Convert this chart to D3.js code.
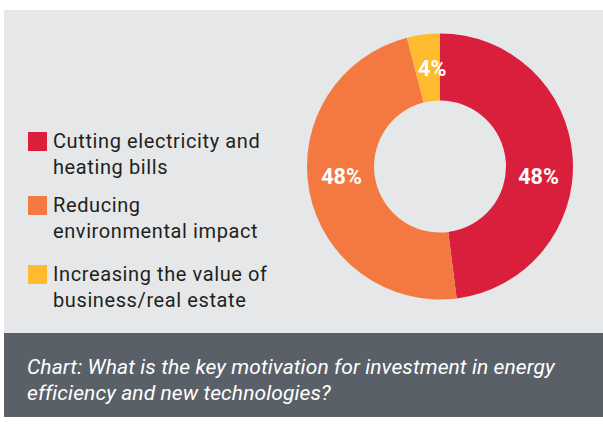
<!DOCTYPE html>
<html>
<head>
<meta charset="utf-8">
<script src="https://cdn.jsdelivr.net/npm/d3@7"></script>
<style>
  html, body { margin: 0; padding: 0; background: #ffffff; }
  svg { display: block; }
</style>
</head>
<body>
<svg id="chart" width="603" height="424"></svg>
<script>
// Survey answers: share of respondents per motivation
const categories = [
  ["Cutting electricity and", "heating bills"],
  ["Reducing", "environmental impact"],
  ["Increasing the value of", "business/real estate"]
];
const values = [48, 48, 4];
const colors = ["#da1f3d", "#f47940", "#fdbb2d"];
const captionLines = [
  "Chart: What is the key motivation for investment in energy",
  "efficiency and new technologies?"
];

const svg = d3.select("#chart");
const FONT = "Roboto, 'Noto Sans', sans-serif";

// panel backgrounds
svg.append("rect").attr("x", 4).attr("y", 10).attr("width", 599).attr("height", 323)
  .attr("fill", "#e6e7e8");
svg.append("rect").attr("x", 4).attr("y", 333).attr("width", 599).attr("height", 84)
  .attr("fill", "#5a6068");

// donut
const cx = 440, cy = 166.5, rOuter = 133, rInner = 66;
const pie = d3.pie().sort(null).value(d => d)
  .startAngle(0).endAngle(2 * Math.PI);
const arcs = pie(values);
const arc = d3.arc().innerRadius(rInner).outerRadius(rOuter);

const g = svg.append("g").attr("transform", `translate(${cx},${cy})`);
g.selectAll("path.slice").data(arcs).join("path")
  .attr("class", "slice")
  .attr("d", arc)
  .attr("fill", (d, i) => colors[i]);

// value labels on the ring, angle nudged so the large ones sit a bit lower
const labelR = 99;
const angleNudge = [9.1, 5.1, 2.7].map(a => a * Math.PI / 180);
g.selectAll("text.val").data(arcs).join("text")
  .attr("class", "val")
  .attr("transform", (d, i) => {
    const a = (d.startAngle + d.endAngle) / 2 + angleNudge[i];
    return `translate(${Math.sin(a) * labelR},${-Math.cos(a) * labelR})`;
  })
  .attr("text-anchor", "middle")
  .attr("dy", "0.36em")
  .attr("fill", "#ffffff")
  .attr("font-family", FONT)
  .attr("font-weight", "bold")
  .attr("font-size", 21.5)
  .text(d => d.data + "%");

// legend
const legendY = [132, 196, 265];
const legend = svg.append("g");
categories.forEach((lines, i) => {
  legend.append("rect")
    .attr("x", 28).attr("y", legendY[i])
    .attr("width", 19).attr("height", 19)
    .attr("fill", colors[i]);
  const t = legend.append("text")
    .attr("x", 53).attr("y", legendY[i] + 15.5)
    .attr("fill", "#231f20")
    .attr("font-family", FONT)
    .attr("font-size", 20)
    .attr("letter-spacing", 0.6);
  lines.forEach((ln, j) => {
    t.append("tspan").attr("x", 53).attr("dy", j === 0 ? 0 : 26).text(ln);
  });
});

// caption
const cap = svg.append("text")
  .attr("x", 27).attr("y", 374)
  .attr("fill", "#ffffff")
  .attr("font-family", FONT)
  .attr("font-style", "italic")
  .attr("font-size", 21)
  .attr("letter-spacing", 0.1);
captionLines.forEach((ln, j) => {
  cap.append("tspan").attr("x", 27).attr("dy", j === 0 ? 0 : 26).text(ln);
});
</script>
</body>
</html>
